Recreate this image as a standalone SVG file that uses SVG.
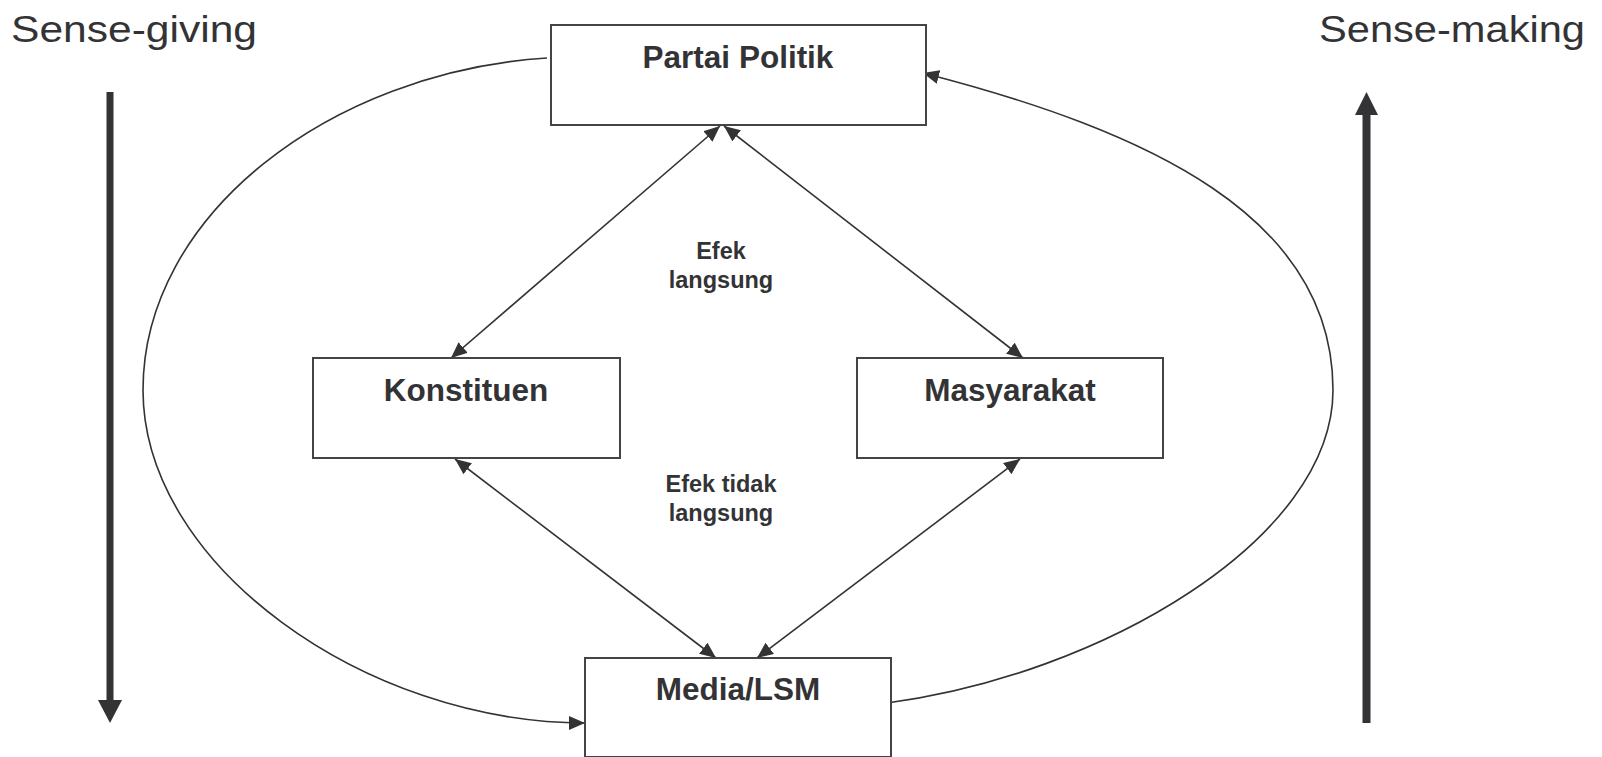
<svg xmlns="http://www.w3.org/2000/svg" width="1602" height="757" viewBox="0 0 1602 757">
<style>
.box{fill:#fff;stroke:#444446;stroke-width:2}
.lbl{font-family:"Liberation Sans",Arial,sans-serif;font-weight:bold;fill:#333336;text-anchor:middle}
.big{font-family:"Liberation Sans",Arial,sans-serif;font-size:37px;fill:#333336}
.conn{fill:none;stroke:#333336;stroke-width:1.6}
.thick{fill:#333336}
</style>
<defs>
<marker id="ah" viewBox="0 0 16 14" refX="16" refY="7" markerWidth="16" markerHeight="14" markerUnits="userSpaceOnUse" orient="auto-start-reverse">
<path d="M0,0 L16,7 L0,14 z" fill="#333336"/>
</marker>
</defs>
<text class="big" x="11" y="42" textLength="246" lengthAdjust="spacingAndGlyphs">Sense-giving</text>
<text class="big" x="1319" y="42" textLength="266" lengthAdjust="spacingAndGlyphs">Sense-making</text>
<g id="sense-giving-arrow">
<rect class="thick" x="106.5" y="92" width="7" height="610"/>
<polygon class="thick" points="98,700 122,700 110,723"/>
</g>
<g id="sense-making-arrow">
<rect class="thick" x="1362.5" y="113" width="8" height="610"/>
<polygon class="thick" points="1355,115 1378,115 1366.5,92"/>
</g>
<g id="connectors">
<line class="conn" x1="720" y1="126" x2="451" y2="358" marker-start="url(#ah)" marker-end="url(#ah)"/>
<line class="conn" x1="724" y1="126" x2="1023" y2="358" marker-start="url(#ah)" marker-end="url(#ah)"/>
<line class="conn" x1="455" y1="459" x2="716" y2="658" marker-start="url(#ah)" marker-end="url(#ah)"/>
<line class="conn" x1="1020" y1="459" x2="757" y2="658" marker-start="url(#ah)" marker-end="url(#ah)"/>
<path class="conn" d="M547,58 C330,72 143,215 143,390 C143,565 365,723 585,723" marker-end="url(#ah)"/>
<path class="conn" d="M887,703 C1100,675 1333,540 1333,390 C1333,216 1148,131 923,73" marker-end="url(#ah)"/>
</g>
<g id="partai-politik">
<rect class="box" x="551" y="25" width="375" height="100"/>
<text class="lbl" x="738" y="68" font-size="31.5">Partai Politik</text>
</g>
<g id="konstituen">
<rect class="box" x="313" y="358" width="307" height="100"/>
<text class="lbl" x="466" y="401" font-size="31.5">Konstituen</text>
</g>
<g id="masyarakat">
<rect class="box" x="857" y="358" width="306" height="100"/>
<text class="lbl" x="1010" y="401" font-size="31.5">Masyarakat</text>
</g>
<g id="media-lsm">
<rect class="box" x="585" y="658" width="306" height="99"/>
<text class="lbl" x="738" y="700" font-size="31.5">Media/LSM</text>
</g>
<g id="efek-langsung">
<text class="lbl" x="721" y="259" font-size="23.5">Efek</text>
<text class="lbl" x="721" y="288" font-size="23.5">langsung</text>
</g>
<g id="efek-tidak-langsung">
<text class="lbl" x="721" y="492" font-size="23.5">Efek tidak</text>
<text class="lbl" x="721" y="521" font-size="23.5">langsung</text>
</g>
</svg>
